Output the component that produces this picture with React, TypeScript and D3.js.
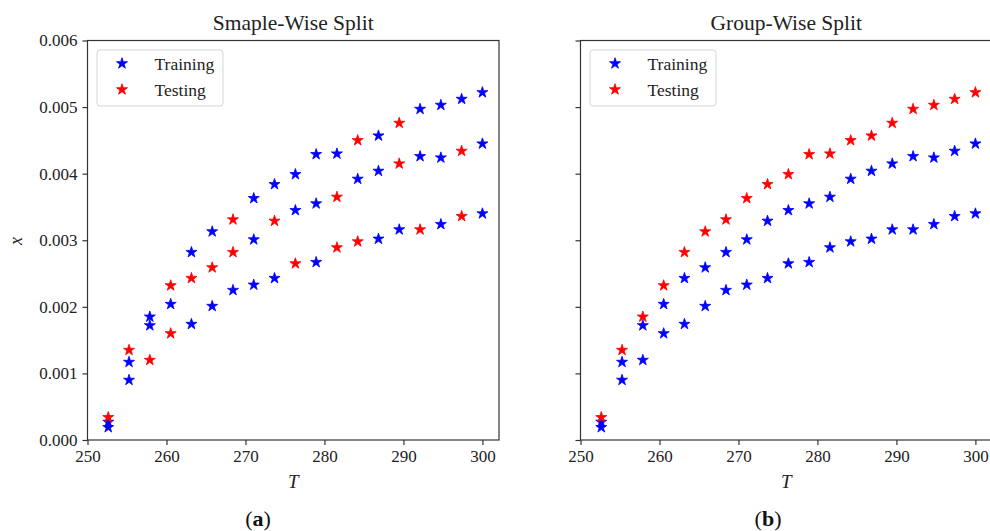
import React, { useEffect, useRef } from 'react'
import * as d3 from 'd3'

// temperature grid shared by both panels
const temps = [252.63, 255.26, 257.89, 260.53, 263.16, 265.79, 268.42, 271.05, 273.68, 276.32, 278.95, 281.58, 284.21, 286.84, 289.47, 292.11, 294.74, 297.37, 300.0]
// three curves of x
const upperX = [0.00034, 0.00135, 0.00185, 0.00232, 0.00282, 0.00313, 0.00331, 0.00363, 0.00384, 0.00399, 0.00429, 0.00430, 0.00450, 0.00457, 0.00476, 0.00497, 0.00503, 0.00512, 0.00522]
const middleX = [0.00027, 0.00117, 0.00172, 0.00204, 0.00243, 0.00259, 0.00282, 0.00301, 0.00329, 0.00345, 0.00355, 0.00365, 0.00392, 0.00404, 0.00415, 0.00426, 0.00424, 0.00434, 0.00445]
const lowerX = [0.00019, 0.00090, 0.00120, 0.00160, 0.00174, 0.00201, 0.00225, 0.00233, 0.00243, 0.00265, 0.00267, 0.00289, 0.00298, 0.00302, 0.00316, 0.00316, 0.00324, 0.00336, 0.00340]

// sample-wise split: 1 = testing, 0 = training
const sampleTestUpper = [1, 1, 0, 1, 0, 0, 1, 0, 0, 0, 0, 0, 1, 0, 1, 0, 0, 0, 0]
const sampleTestMiddle = [0, 0, 0, 0, 1, 1, 1, 0, 1, 0, 0, 1, 0, 0, 1, 0, 0, 1, 0]
const sampleTestLower = [0, 0, 1, 1, 0, 0, 0, 0, 0, 1, 0, 1, 1, 0, 0, 1, 0, 1, 0]
// group-wise split: whole curves
const groupTestUpper = [1, 1, 1, 1, 1, 1, 1, 1, 1, 1, 1, 1, 1, 1, 1, 1, 1, 1, 1]
const groupTestMiddle = [0, 0, 0, 0, 0, 0, 0, 0, 0, 0, 0, 0, 0, 0, 0, 0, 0, 0, 0]
const groupTestLower = [0, 0, 0, 0, 0, 0, 0, 0, 0, 0, 0, 0, 0, 0, 0, 0, 0, 0, 0]

const xTicks = [250, 260, 270, 280, 290, 300]
const yTicks = [0, 0.001, 0.002, 0.003, 0.004, 0.005, 0.006]
const legendLabels = ['Training', 'Testing']

const FONT = 'Liberation Serif, Times New Roman, Times, serif'
const BLUE = '#0000ff'
const RED = '#ff0000'

const star = d3.symbol().type(d3.symbolStar).size(38)()

type Pt = { t: number; x: number; test: number }

const buildPoints = (flags: number[][]): Pt[] => {
    const curves = [upperX, middleX, lowerX]
    const pts: Pt[] = []
    curves.forEach((c, k) => {
        c.forEach((v, i) => pts.push({ t: temps[i], x: v, test: flags[k][i] }))
    })
    return pts
}

const Panel = ({ left, title, flags, showY, tag, tagX }: any) => {
    const axRef = useRef<SVGGElement>(null)
    const width = 411.5
    const top = 40.5
    const bottom = 440

    const xScale = d3.scaleLinear().domain([250, 302.1]).range([left, left + width])
    const yScale = d3.scaleLinear().domain([0, 0.006]).range([bottom, top])

    useEffect(() => {
        const g = d3.select(axRef.current)
        const xAxis = d3.axisBottom(xScale).tickValues(xTicks).tickSize(5).tickPadding(5).tickFormat(d3.format('d'))
        const yAxis = d3.axisLeft(yScale).tickValues(yTicks).tickSize(5).tickPadding(5)
            .tickFormat(showY ? d3.format('.3f') : () => '')
        g.select<SVGGElement>('.x-axis').attr('transform', `translate(0,${bottom})`).call(xAxis)
        g.select<SVGGElement>('.y-axis').attr('transform', `translate(${left},0)`).call(yAxis)
        g.selectAll('.domain').remove()
        g.selectAll('.x-axis, .y-axis').attr('font-family', FONT).attr('font-size', 17)
        g.selectAll('.tick line').attr('stroke', '#333').attr('stroke-width', 1.2)
        g.selectAll('.tick text').attr('fill', '#222')
    }, [])

    const pts = buildPoints(flags)
    const training = pts.filter(p => !p.test)
    const testing = pts.filter(p => p.test)
    const midX = left + width / 2

    return (
        <g>
            <g ref={axRef}>
                <g className='x-axis' />
                <g className='y-axis' />
            </g>
            {training.map((p, i) => (
                <path key={'tr' + i} d={star} transform={`translate(${xScale(p.t)},${yScale(p.x)})`}
                    fill={BLUE} stroke={BLUE} strokeWidth={0.8} strokeLinejoin='round' />
            ))}
            {testing.map((p, i) => (
                <path key={'te' + i} d={star} transform={`translate(${xScale(p.t)},${yScale(p.x)})`}
                    fill={RED} stroke={RED} strokeWidth={0.8} strokeLinejoin='round' />
            ))}
            <rect x={left} y={top} width={width} height={bottom - top} fill='none' stroke='#333' strokeWidth={1.2} />
            <text x={midX} y={30} textAnchor='middle' fontFamily={FONT} fontSize={21.5} fill='#222'>{title}</text>
            <text x={midX} y={488} textAnchor='middle' fontFamily={FONT} fontSize={19} fontStyle='italic' fill='#222'>T</text>
            {showY && (
                <text transform={`translate(22,241) rotate(-90)`} textAnchor='middle' fontFamily={FONT} fontSize={18}
                    fontStyle='italic' fill='#222'>x</text>
            )}
            <g transform={`translate(${left + 9.5},50)`}>
                <rect width={126} height={56} rx={3} fill='#fff' fillOpacity={0.8} stroke='#d6d6d6' strokeWidth={1} />
                {legendLabels.map((lab, i) => (
                    <g key={lab} transform={`translate(0,${13.5 + i * 26})`}>
                        <path d={star} transform='translate(25,0)' fill={i ? RED : BLUE} stroke={i ? RED : BLUE} strokeWidth={0.8} />
                        <text x={57.5} y={6} fontFamily={FONT} fontSize={17.5} fill='#222'>{lab}</text>
                    </g>
                ))}
            </g>
            <text x={tagX} y={526} textAnchor='middle' fontFamily={FONT} fontSize={22} fill='#111'>
                (<tspan fontWeight='bold'>{tag}</tspan>)
            </text>
        </g>
    )
}

export default function App() {
    return (
        <svg width={990} height={531} style={{ position: 'absolute', left: 0, top: 0, background: '#fff' }}>
            <rect width={990} height={531} fill='#fff' />
            <Panel left={87.5} title='Smaple-Wise Split' showY={true} tag='a' tagX={258}
                flags={[sampleTestUpper, sampleTestMiddle, sampleTestLower]} />
            <Panel left={580.5} title='Group-Wise Split' showY={false} tag='b' tagX={768}
                flags={[groupTestUpper, groupTestMiddle, groupTestLower]} />
        </svg>
    )
}
